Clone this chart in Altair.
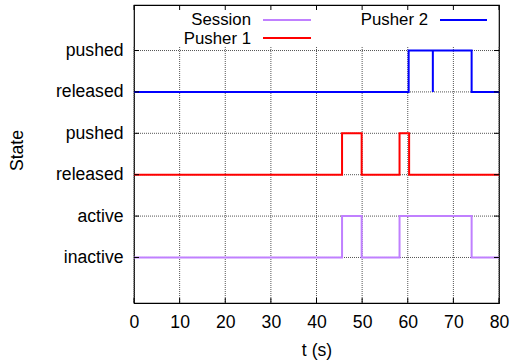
import altair as alt
import pandas as pd

# ---- data ----
series_names = ["Session", "Pusher 1", "Pusher 2"]
series_colors = ["#c080ff", "#ff0000", "#0000ff"]

session_t = [0, 45.6, 49.9, 58.2, 74.0, 80]
session_v = [0, 1, 0, 1, 0, 0]

pusher1_t = [0, 45.6, 49.9, 58.2, 60.3, 80]
pusher1_v = [2, 3, 2, 3, 2, 2]

pusher2_t = [0, 60.2, 65.5, 65.5, 74.0, 80]
pusher2_v = [4, 5, 4, 5, 4, 4]

x_ticks = [0, 10, 20, 30, 40, 50, 60, 70, 80]
y_values = [0, 1, 2, 3, 4, 5]
y_labels = ["inactive", "active", "released", "pushed", "released", "pushed"]

rows = []
for name, ts, vs in zip(series_names, [session_t, pusher1_t, pusher2_t],
                        [session_v, pusher1_v, pusher2_v]):
    for i, (t, v) in enumerate(zip(ts, vs)):
        rows.append({"t": t, "level": v, "series": name, "order": i})
df = pd.DataFrame(rows)

FONT = "Liberation Sans"
FS = 17.6
LFS = 16.8

x_scale = alt.Scale(domain=[0, 80], nice=False, zero=False)
y_scale = alt.Scale(domain=[-1.1, 6.1], nice=False, zero=False)

label_expr = "[" + ",".join("'%s'" % s for s in y_labels) + "][datum.value]"

x_axis = alt.Axis(
    values=x_ticks, title="t (s)", grid=False,
    tickSize=0, domain=False, labelFontSize=FS, labelPadding=10, labelFlush=False,
    labelOverlap=False, titleFontSize=FS, titleFontWeight="normal", titlePadding=11,
    labelColor="black", titleColor="black", labelFont=FONT, titleFont=FONT)
y_axis = alt.Axis(
    values=y_values, labelExpr=label_expr, title="State", grid=False,
    tickSize=0, domain=False,
    labelFontSize=FS, labelPadding=11, labelColor="black", titleColor="black",
    titleFontSize=FS, titleFontWeight="normal", titleX=-117, titleY=145,
    titleAngle=-90, titleBaseline="middle", titleAlign="center",
    labelOverlap=False, labelFont=FONT, titleFont=FONT)

xt = pd.DataFrame({"t": x_ticks})
yt = pd.DataFrame({"level": y_values})

grid_x = alt.Chart(xt).mark_rule(color="#555", strokeDash=[1, 1], strokeWidth=1).encode(
    x=alt.X("t:Q", scale=x_scale, axis=x_axis), y=alt.value(42), y2=alt.value(298))
grid_y = alt.Chart(yt).mark_rule(color="#555", strokeDash=[1, 1], strokeWidth=1).encode(
    y=alt.Y("level:Q", scale=y_scale, axis=y_axis), x=alt.value(0), x2=alt.value(365))

lines = alt.Chart(df).mark_line(interpolate="step-after", strokeWidth=2, clip=True).encode(
    x=alt.X("t:Q", scale=x_scale, axis=x_axis),
    y=alt.Y("level:Q", scale=y_scale, axis=y_axis),
    color=alt.Color("series:N", scale=alt.Scale(domain=series_names, range=series_colors),
                    legend=None),
    order="order:Q",
    detail="series:N",
)

tick_x_bottom = alt.Chart(xt).mark_rule(color="black").encode(
    x=alt.X("t:Q", scale=x_scale, axis=x_axis), y=alt.value(298), y2=alt.value(293))
tick_x_top = alt.Chart(xt).mark_rule(color="black").encode(
    x=alt.X("t:Q", scale=x_scale, axis=x_axis), y=alt.value(0), y2=alt.value(5))
tick_y_left = alt.Chart(yt).mark_rule(color="black").encode(
    y=alt.Y("level:Q", scale=y_scale, axis=y_axis), x=alt.value(0), x2=alt.value(5))
tick_y_right = alt.Chart(yt).mark_rule(color="black").encode(
    y=alt.Y("level:Q", scale=y_scale, axis=y_axis), x=alt.value(360), x2=alt.value(365))

# legend (gnuplot-style key: text then sample line)
leg_pos = [(117, 15, 129, 177, 15), (117, 34, 129, 177, 33), (294, 15, 306, 353, 15)]
legend_layers = []
for name, col, (tx, ty, lx1, lx2, ly) in zip(series_names, series_colors, leg_pos):
    legend_layers.append(
        alt.Chart(pd.DataFrame({"n": [name]})).mark_text(
            align="right", baseline="middle", fontSize=LFS, font=FONT, color="black"
        ).encode(text="n:N", x=alt.value(tx), y=alt.value(ty)))
    legend_layers.append(
        alt.Chart(pd.DataFrame({"n": [name]})).mark_rule(color=col, strokeWidth=2).encode(
            x=alt.value(lx1), x2=alt.value(lx2), y=alt.value(ly)))

chart = alt.layer(grid_x, grid_y, lines, tick_x_bottom, tick_x_top, tick_y_left,
                  tick_y_right, *legend_layers).properties(
    width=365, height=298,
    autosize=alt.AutoSizeParams(type="none"),
    padding={"left": 134, "top": 5, "right": 14, "bottom": 58},
).configure(font=FONT).configure_view(stroke="black", strokeWidth=1.2)

chart.save("out.html", embed_options={"renderer": "svg", "actions": False})
